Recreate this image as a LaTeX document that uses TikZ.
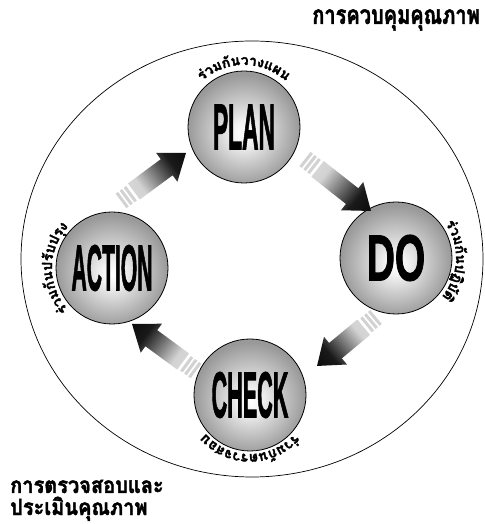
\documentclass[tikz,border=0pt]{standalone}
\usepackage{fontspec}
\usepackage{graphicx}
\usetikzlibrary{decorations.text}

\newfontfamily\thai[Script=Thai,BoldFeatures={FakeBold=2}]{Loma}
\newfontfamily\heavy[BoldFeatures={FakeBold=2}]{Liberation Sans}

\pgfdeclareradialshading{sphere}{\pgfpoint{0bp}{-3bp}}{color(0bp)=(white); color(5bp)=(gray!10); color(14bp)=(gray!42); color(21bp)=(gray!66); color(25bp)=(gray!80); color(50bp)=(gray!80)}
\pgfdeclareverticalshading{fade}{100bp}{color(0bp)=(gray!25); color(32bp)=(gray!35); color(68bp)=(black!90); color(100bp)=(black)}

\newcommand\ballword[2]{\scalebox{#1}[2.7]{\heavy\bfseries\fontsize{24}{24}\selectfont #2}}
\newcommand\arcfont{\thai\bfseries\fontsize{14}{14}\selectfont}
\newcommand\headfont{\thai\bfseries\fontsize{20}{20}\selectfont}
\newcommand\headline[2][1.3]{\scalebox{1}[#1]{#2}}

\makeatletter
\newcommand\cyclearrow[2]{%
  \pgfpointdiff{\pgfpointanchor{#1}{center}}{\pgfpointanchor{#2}{center}}%
  \edef\arrdx{\strip@pt\pgf@x}\edef\arrdy{\strip@pt\pgf@y}%
  \pgfmathsetmacro\arrlen{veclen(\arrdx,\arrdy)}%
  \pgfmathsetmacro\arrang{atan2(\arrdy,\arrdx)}%
  \pgfmathsetmacro\fadeang{\arrang-90}%
  \begin{scope}[shift={(#1)},rotate=\arrang]
    \fill[stripe] (0,-9) rectangle (3,9) (5,-9) rectangle (8,9) (10,-9) rectangle (13,9);
    \shade[shading=fade,shading angle=\fadeang] (16,-10) -- (\arrlen-24,-10) -- (\arrlen-24,-18)
      -- (\arrlen,0) -- (\arrlen-24,18) -- (\arrlen-24,10) -- (16,10) -- cycle;
  \end{scope}}
\makeatother

\tikzset{
  ball/.style={circle, draw=black, line width=0.8pt, minimum size=112pt, inner sep=0pt, shading=sphere},
  stripe/.style={fill=gray!35},
  arclabel/.style={decorate, decoration={text along path, text align=center, text={|\arcfont|#1}}},
}

\begin{document}
\begin{tikzpicture}[x=1pt,y=1pt]
\useasboundingbox (0,0) rectangle (484,524);
% outer ring
\draw[line width=0.7pt] (252,265) ellipse [x radius=231, y radius=218];

% the four steps
\node[ball] (plan) at (244,397) {\ballword{0.95}{PLAN}};
\node[ball] (do) at (396,266) {\ballword{1.62}{DO}};
\node[ball] (check) at (250,129) {\ballword{0.9}{CHECK}};
\node[ball] (action) at (112,256) {\ballword{0.88}{ACTION}};

% labels round the balls
\path[arclabel={{ร่}วม{กั}นวางแผน}] ([shift={(150:62)}]plan.center) arc[start angle=150, end angle=30, radius=62];
\path[arclabel={{ร่}วม{กั}นป{ฏิ}{บั}{ติ}}] ([shift={(65:60)}]do.center) arc[start angle=65, end angle=-70, radius=60];
\path[arclabel={{ร่}วม{กั}นตรวจสอบ}] ([shift={(-25:59)}]check.center) arc[start angle=-25, end angle=-155, radius=59];
\path[arclabel={{ร่}วม{กั}นป{รั}บป{รุ}ง}] ([shift={(245:60)}]action.center) arc[start angle=245, end angle=115, radius=60];

% arrows
\coordinate (a1t) at (121,323);
\coordinate (a1h) at (186,371);
\coordinate (a2t) at (305,365);
\coordinate (a2h) at (371,313);
\coordinate (a3t) at (376,207);
\coordinate (a3h) at (317,158);
\coordinate (a4t) at (196,153);
\coordinate (a4h) at (132,200);
\cyclearrow{a1t}{a1h}
\cyclearrow{a2t}{a2h}
\cyclearrow{a3t}{a3h}
\cyclearrow{a4t}{a4h}

% headings
\node[font=\headfont, anchor=east, inner sep=0pt] (qc) at (480,504) {\headline{การควบคุมคุณภาพ}};
\node[font=\headfont, anchor=base west, inner sep=0pt] (eval1) at (10,31) {\headline[1.12]{การตรวจสอบและ}};
\node[font=\headfont, anchor=base west, inner sep=0pt] (eval2) at (10,9) {\headline[1.12]{ประเมินคุณภาพ}};
\end{tikzpicture}
\end{document}
